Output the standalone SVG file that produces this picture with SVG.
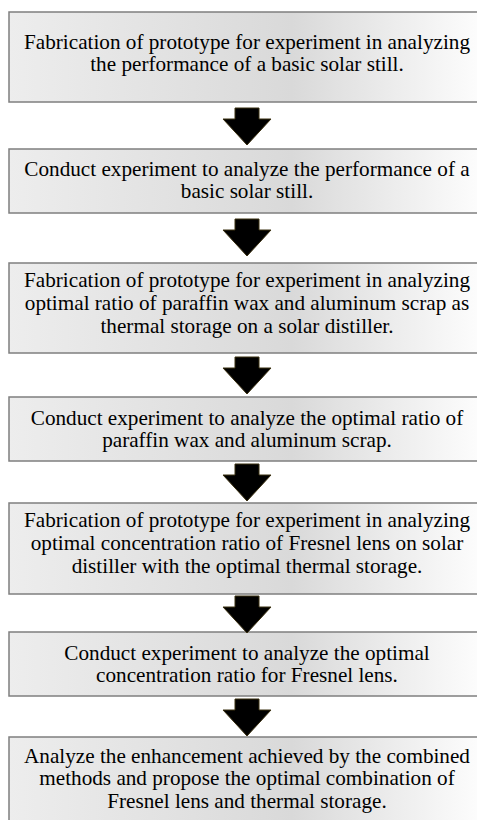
<svg xmlns="http://www.w3.org/2000/svg" width="477" height="820" viewBox="0 0 477 820">
<defs>
<linearGradient id="g" x1="0" y1="0" x2="1" y2="0">
<stop offset="0" stop-color="#ededed"/>
<stop offset="0.6" stop-color="#d9d9d9"/>
<stop offset="1" stop-color="#fdfdfd"/>
</linearGradient>
<path id="arr" d="M-12,0 H12 V11 H24 L0,37 L-24,11 H-12 Z"/>
</defs>
<style>
.box{fill:url(#g);stroke:#7f7f7f;stroke-width:1.5}
.t{font-family:"Liberation Serif","Times New Roman",serif;font-size:21.2px;fill:#000;text-anchor:middle}
.a{fill:#000;stroke:#3b3010;stroke-width:1}
</style>
<rect width="477" height="820" fill="#fff"/>
<g id="n1"><rect class="box" x="9" y="12" width="472" height="90"/>
<text class="t" x="247" y="49">Fabrication of prototype for experiment in analyzing</text>
<text class="t" x="247" y="71">the performance of a basic solar still.</text></g>
<g id="n2"><rect class="box" x="9" y="149" width="472" height="64"/>
<text class="t" x="247" y="176">Conduct experiment to analyze the performance of a</text>
<text class="t" x="247" y="198">basic solar still.</text></g>
<g id="n3"><rect class="box" x="9" y="263" width="472" height="90"/>
<text class="t" x="247" y="287">Fabrication of prototype for experiment in analyzing</text>
<text class="t" x="247" y="310">optimal ratio of paraffin wax and aluminum scrap as</text>
<text class="t" x="247" y="333">thermal storage on a solar distiller.</text></g>
<g id="n4"><rect class="box" x="9" y="397" width="472" height="64"/>
<text class="t" x="247" y="425">Conduct experiment to analyze the optimal ratio of</text>
<text class="t" x="247" y="447">paraffin wax and aluminum scrap.</text></g>
<g id="n5"><rect class="box" x="9" y="503" width="472" height="91"/>
<text class="t" x="247" y="527">Fabrication of prototype for experiment in analyzing</text>
<text class="t" x="247" y="550">optimal concentration ratio of Fresnel lens on solar</text>
<text class="t" x="247" y="573">distiller with the optimal thermal storage.</text></g>
<g id="n6"><rect class="box" x="9" y="632" width="472" height="64"/>
<text class="t" x="247" y="660">Conduct experiment to analyze the optimal</text>
<text class="t" x="247" y="682">concentration ratio for Fresnel lens.</text></g>
<g id="n7"><rect class="box" x="9" y="737" width="472" height="100"/>
<text class="t" x="247" y="763">Analyze the enhancement achieved by the combined</text>
<text class="t" x="247" y="785">methods and propose the optimal combination of</text>
<text class="t" x="247" y="808">Fresnel lens and thermal storage.</text></g>
<g id="connectors">
<use class="a" href="#arr" x="247" y="108"/>
<use class="a" href="#arr" x="247" y="219"/>
<use class="a" href="#arr" x="247" y="357"/>
<use class="a" href="#arr" x="247" y="464"/>
<use class="a" href="#arr" x="247" y="596"/>
<use class="a" href="#arr" x="247" y="699"/>
</g>
</svg>
